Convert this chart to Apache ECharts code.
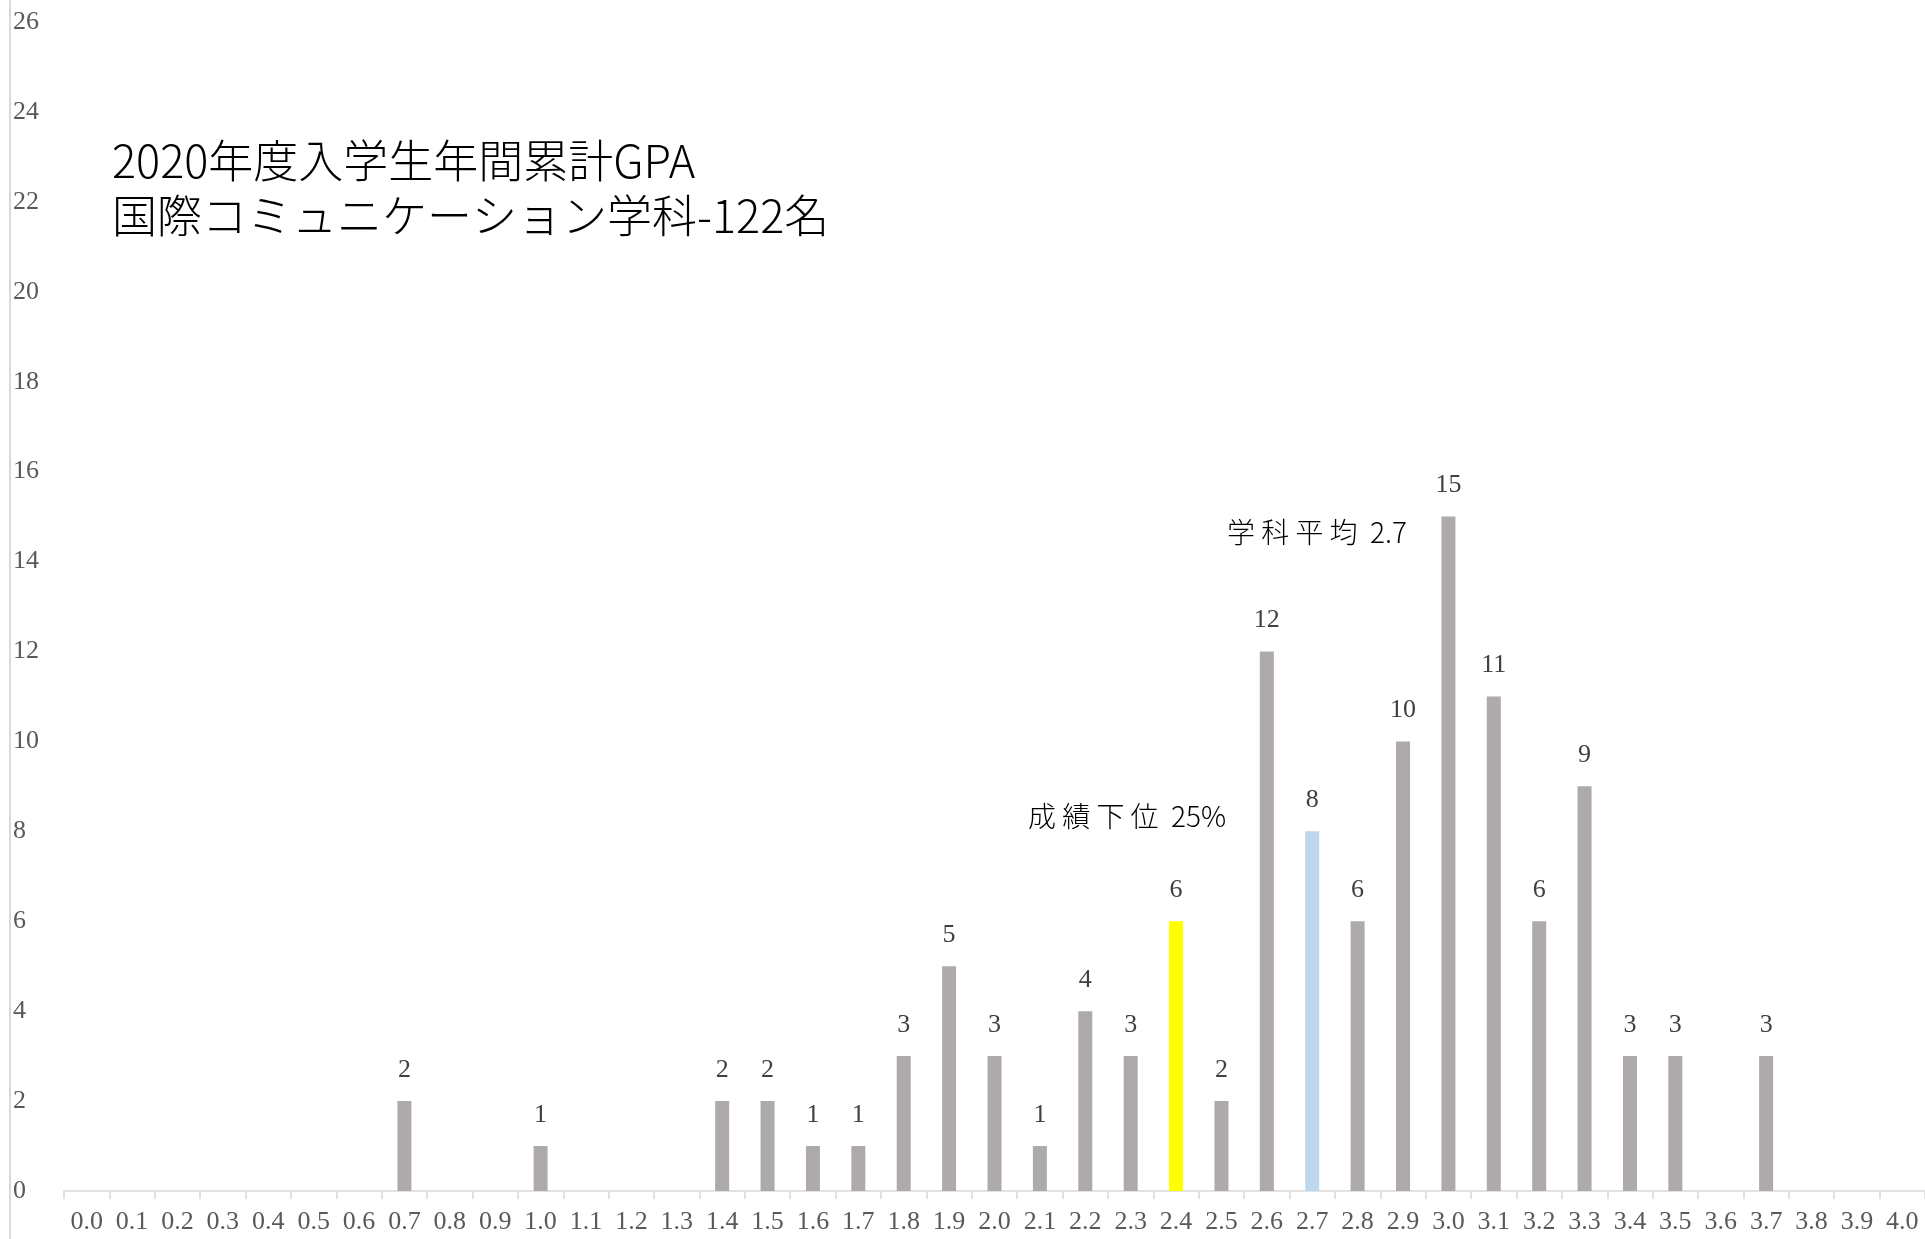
<!DOCTYPE html>
<html>
<head>
<meta charset="utf-8">
<script src="https://cdn.jsdelivr.net/npm/echarts@6/dist/echarts.min.js"></script>
<style>
html,body{margin:0;padding:0;background:#fff;}
#wrap{position:relative;width:1925px;height:1239px;}
#chart{position:absolute;left:0;top:0;width:1925px;height:1239px;}
#edge{position:absolute;left:9px;top:0;width:2px;height:1239px;background:#d9d9d9;}
</style>
</head>
<body>
<div id="wrap"><div id="chart"></div><div id="edge"></div></div>
<script>
const categories = ['0.0','0.1','0.2','0.3','0.4','0.5','0.6','0.7','0.8','0.9','1.0','1.1','1.2','1.3','1.4','1.5','1.6','1.7','1.8','1.9','2.0','2.1','2.2','2.3','2.4','2.5','2.6','2.7','2.8','2.9','3.0','3.1','3.2','3.3','3.4','3.5','3.6','3.7','3.8','3.9','4.0'];
const counts = [0,0,0,0,0,0,0,2,0,0,1,0,0,0,2,2,1,1,3,5,3,1,4,3,6,2,12,8,6,10,15,11,6,9,3,3,0,3,0,0,0];
const lowerQuartileCategory = '2.4';
const averageCategory = '2.7';
const titleLines = ['2020年度入学生年間累計GPA', '国際コミュニケーション学科-122名'];
const averageNote = '学 科 平 均  2.7';
const lowerNote = '成 績 下 位  25%';

const colorBase = '#aeaaaa';
const colorLower = '#ffff00';
const colorAvg = '#bdd7ee';
const serif = '"Liberation Serif", "DejaVu Serif", serif';
const jp = '"Noto Sans CJK JP", "Noto Sans", sans-serif';

const barData = counts.map((v, i) => {
  let c = colorBase;
  if (categories[i] === lowerQuartileCategory) c = colorLower;
  if (categories[i] === averageCategory) c = colorAvg;
  return { value: v, itemStyle: { color: c } };
});

const chart = echarts.init(document.getElementById('chart'));
chart.setOption({
  animation: false,
  backgroundColor: '#ffffff',
  title: {
    text: titleLines.join('\n'),
    left: 107,
    top: 128,
    textStyle: { fontFamily: jp, fontSize: 45, lineHeight: 55, fontWeight: 300, color: '#000000' }
  },
  grid: { left: 64, right: 0, top: 22, bottom: 48, containLabel: false },
  xAxis: {
    type: 'category',
    data: categories,
    boundaryGap: true,
    axisLine: { show: true, lineStyle: { color: '#d9d9d9', width: 1.5 } },
    axisTick: { show: true, alignWithLabel: false, length: 8, lineStyle: { color: '#d9d9d9', width: 1.5 } },
    axisLabel: { interval: 0, margin: 18, fontFamily: serif, fontSize: 26, color: '#595959' }
  },
  yAxis: {
    type: 'value',
    min: 0,
    max: 26,
    interval: 2,
    axisLine: { show: false },
    axisTick: { show: false },
    splitLine: { show: false },
    axisLabel: { align: 'left', margin: 51, fontFamily: serif, fontSize: 26, color: '#595959' }
  },
  series: [{
    type: 'bar',
    data: barData,
    barWidth: 14,
    label: {
      show: true,
      position: 'top',
      distance: 18,
      fontFamily: serif,
      fontSize: 26,
      color: '#404040',
      formatter: p => (p.value ? String(p.value) : '')
    }
  }],
  graphic: [
    { type: 'text', left: 1227, top: 518, style: { text: averageNote, font: '300 28px ' + jp, fill: '#000000' } },
    { type: 'text', left: 1028, top: 802, style: { text: lowerNote, font: '300 28px ' + jp, fill: '#000000' } }
  ]
});
</script>
</body>
</html>
